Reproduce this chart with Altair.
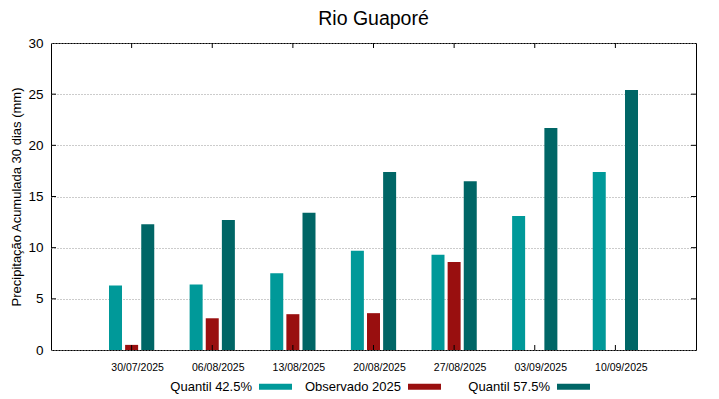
import altair as alt
import pandas as pd

dates = ["30/07/2025", "06/08/2025", "13/08/2025", "20/08/2025",
         "27/08/2025", "03/09/2025", "10/09/2025"]
q425 = [6.3, 6.4, 7.5, 9.7, 9.3, 13.1, 17.4]
obs = [0.5, 3.1, 3.5, 3.6, 8.6, None, None]
q575 = [12.3, 12.7, 13.4, 17.4, 16.5, 21.7, 25.4]
series = ["Quantil 42.5%", "Observado 2025", "Quantil 57.5%"]
colors = ["#009999", "#990f0f", "#006666"]
yticks = [5, 10, 15, 20, 25]

rows = []
for i, d in enumerate(dates):
    for s, vals in zip(series, [q425, obs, q575]):
        if vals[i] is not None:
            rows.append({"date": d, "series": s, "value": vals[i]})
df = pd.DataFrame(rows)
dates_df = pd.DataFrame({"date": dates})
yt_df = pd.DataFrame({"v": yticks})

W, H = 645, 307
FONT = "Liberation Sans"

xscale = alt.Scale(domain=dates, paddingInner=0, paddingOuter=0.5)

bars = alt.Chart(df).mark_bar(width=13).encode(
    x=alt.X("date:N", scale=xscale, sort=dates,
            axis=alt.Axis(title=None, labelAngle=0, labelFontSize=10.5, labelFont=FONT,
                          labelColor="#000", ticks=False, domain=False, labelPadding=12,
                          labelOffset=6)),
    xOffset=alt.XOffset("series:N", sort=series,
                        scale=alt.Scale(domain=series, paddingInner=0, paddingOuter=1)),
    y=alt.Y("value:Q", scale=alt.Scale(domain=[0, 30]),
            axis=alt.Axis(title="Precipitação Acumulada 30 dias (mm)", values=[0, 5, 10, 15, 20, 25, 30],
                          titleFont=FONT, titleFontSize=13, titleFontWeight="normal",
                          titleColor="#000", titlePadding=4,
                          labelFont=FONT, labelFontSize=13.5, labelColor="#000", labelPadding=8,
                          ticks=False, domain=False,
                          grid=True, gridDash=[1, 2], gridColor="#999", gridWidth=1)),
    color=alt.Color("series:N", sort=series, scale=alt.Scale(domain=series, range=colors),
                    legend=alt.Legend(title=None, orient="none", direction="horizontal",
                                      legendX=208, legendY=327,
                                      symbolType="M-1,-0.18H1V0.18H-1Z", symbolSize=1089,
                                      symbolStrokeWidth=0, symbolOpacity=1,
                                      labelAlign="right", labelOffset={"expr": "-40"},
                                      labelFont=FONT, labelFontSize=13, labelColor="#000",
                                      columnPadding=12, gridAlign="all")),
)

xt_bottom = alt.Chart(dates_df).mark_rule(color="#000").encode(
    x=alt.X("date:N", scale=xscale, sort=dates), y=alt.value(H), y2=alt.value(H - 5))
xt_top = alt.Chart(dates_df).mark_rule(color="#000").encode(
    x=alt.X("date:N", scale=xscale, sort=dates), y=alt.value(0), y2=alt.value(5))
yt_left = alt.Chart(yt_df).mark_rule(color="#000").encode(
    y="v:Q", x=alt.value(0), x2=alt.value(5))
yt_right = alt.Chart(yt_df).mark_rule(color="#000").encode(
    y="v:Q", x=alt.value(W - 5), x2=alt.value(W))

chart = alt.layer(bars, xt_bottom, xt_top, yt_left, yt_right).properties(
    width=W, height=H,
    title=alt.TitleParams("Rio Guaporé", fontSize=19.5, font=FONT, fontWeight="normal",
                          color="#000", anchor="middle", offset=7),
    padding={"left": 2, "top": 0, "right": 5, "bottom": 0},
).configure(background="white", view={"stroke": "#000", "strokeWidth": 1})

chart.save("out.html", embed_options={"renderer": "svg", "actions": False})
